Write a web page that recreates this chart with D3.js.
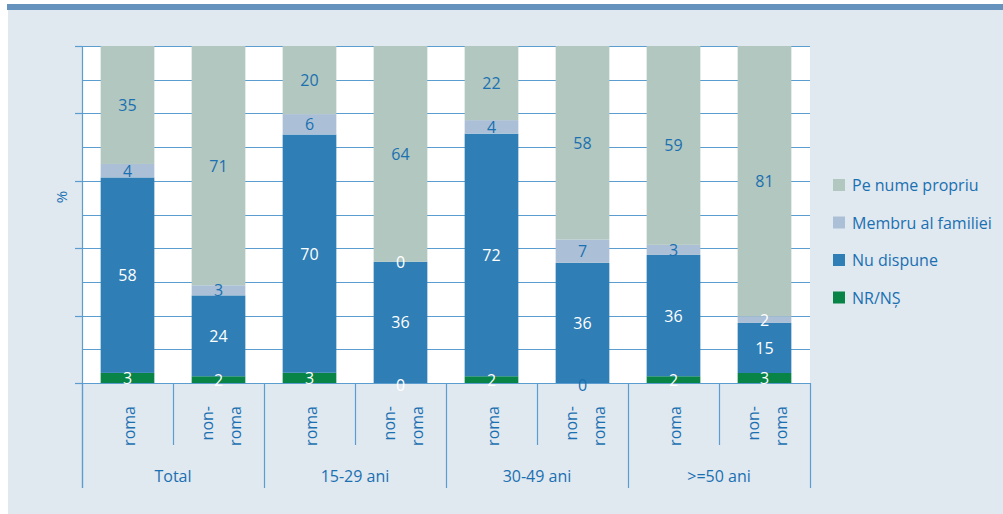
<!DOCTYPE html>
<html><head><meta charset="utf-8">
<script src="https://cdn.jsdelivr.net/npm/d3@7"></script>
<style>
html,body{margin:0;padding:0;background:#fff;}
svg{display:block;font-family:"Open Sans",sans-serif;}
</style></head>
<body>
<svg id="c" width="1003" height="514"></svg>
<script>
const groups = ["Total", "15-29 ani", "30-49 ani", ">=50 ani"];
const subs = ["roma", "non-roma"];
const seriesNames = ["NR/NȘ", "Nu dispune", "Membru al familiei", "Pe nume propriu"];
const legendOrder = ["Pe nume propriu", "Membru al familiei", "Nu dispune", "NR/NȘ"];
const nrns      = [3, 2, 3, 0, 2, 0, 2, 3];
const nuDispune = [58, 24, 70, 36, 72, 36, 36, 15];
const membru    = [4, 3, 6, 0, 4, 7, 3, 2];
const peNume    = [35, 71, 20, 64, 22, 58, 59, 81];

(function(){
const colors = {"NR/NȘ":"#078446","Nu dispune":"#2f7eb5","Membru al familiei":"#abc0d6","Pe nume propriu":"#b1c7bf"};
const txtBlue = "#1a70b0";

const svg = d3.select("#c");
svg.append("rect").attr("x",8).attr("y",4).attr("width",995).attr("height",510).attr("fill","#e0e8f0");
svg.append("rect").attr("x",7).attr("y",4).attr("width",996).attr("height",6).attr("fill","#6693be");

const pL = 82, pR = 810, pT = 46, pB = 383;
const bars = [];
groups.forEach((g,gi)=>subs.forEach((s,si)=>bars.push({id:gi*2+si, group:g, sub:s})));
const rows = bars.map((b,i)=>({id:b.id, "NR/NȘ":nrns[i], "Nu dispune":nuDispune[i], "Membru al familiei":membru[i], "Pe nume propriu":peNume[i]}));

const x = d3.scaleBand().domain(bars.map(b=>b.id)).range([pL,pR]).paddingInner(0.41).paddingOuter(0.205);
const y = d3.scaleLinear().domain([0,1]).range([pB,pT]);

svg.append("rect").attr("x",pL).attr("y",pT).attr("width",pR-pL).attr("height",pB-pT).attr("fill","#fff");

const ticks = d3.range(0,1.0001,0.1);
svg.append("g").selectAll("line").data(ticks).join("line")
  .attr("x1",pL).attr("x2",pR)
  .attr("y1",d=>Math.round(y(d))+0.5).attr("y2",d=>Math.round(y(d))+0.5)
  .attr("stroke","#5c9dd0").attr("stroke-width",1.2);
svg.append("g").selectAll("line").data(d3.range(0,1.0001,0.2)).join("line")
  .attr("x1",pL-7).attr("x2",pL)
  .attr("y1",d=>Math.round(y(d))+0.5).attr("y2",d=>Math.round(y(d))+0.5)
  .attr("stroke","#5c9dd0").attr("stroke-width",1.2);

const stack = d3.stack().keys(seriesNames).offset(d3.stackOffsetExpand);
const stacked = stack(rows);

const gS = svg.append("g");
stacked.forEach(layer=>{
  gS.append("g").attr("fill",colors[layer.key]).selectAll("rect").data(layer).join("rect")
    .attr("x",d=>x(d.data.id)).attr("width",x.bandwidth())
    .attr("y",d=>y(d[1])).attr("height",d=>Math.max(0,y(d[0])-y(d[1])));
});

svg.append("line").attr("x1",pL+0.5).attr("x2",pL+0.5).attr("y1",pT).attr("y2",488).attr("stroke","#5c9dd0").attr("stroke-width",1.2);
svg.append("line").attr("x1",pL).attr("x2",pR).attr("y1",pB+0.5).attr("y2",pB+0.5).attr("stroke","#5c9dd0").attr("stroke-width",1.2);

const whiteOverride = new Set(["7|Membru al familiei","3|Membru al familiei"]);
const blueOverride = new Set(["5|NR/NȘ"]);
stacked.forEach(layer=>{
  svg.append("g").selectAll("text").data(layer).join("text")
    .attr("x",d=>x(d.data.id)+x.bandwidth()/2)
    .attr("y",d=>(y(d[0])+y(d[1]))/2 + (d.data[layer.key]===0 && layer.key==="NR/NȘ" ? 2 : 0))
    .attr("text-anchor","middle").attr("dominant-baseline","central")
    .attr("font-size",16)
    .attr("fill",d=>{
      const k=d.data.id+"|"+layer.key;
      if(whiteOverride.has(k)) return "#fff";
      if(blueOverride.has(k)) return txtBlue;
      return (layer.key==="NR/NȘ"||layer.key==="Nu dispune") ? "#fff" : txtBlue;
    })
    .text(d=>d.data[layer.key]);
});

const step = x.step();
const sepSub = [], sepGroup = [];
groups.forEach((g,gi)=>{
  sepGroup.push(pL + gi*2*step);
  sepSub.push(pL + (gi*2+1)*step);
});
sepGroup.push(pR);
svg.append("g").selectAll("line").data(sepGroup).join("line")
  .attr("x1",d=>Math.round(d)+0.5).attr("x2",d=>Math.round(d)+0.5).attr("y1",pB).attr("y2",488)
  .attr("stroke","#5c9dd0").attr("stroke-width",1.2);
svg.append("g").selectAll("line").data(sepSub).join("line")
  .attr("x1",d=>Math.round(d)+0.5).attr("x2",d=>Math.round(d)+0.5).attr("y1",pB).attr("y2",445)
  .attr("stroke","#5c9dd0").attr("stroke-width",1.2);

bars.forEach(b=>{
  const cx = x(b.id)+x.bandwidth()/2;
  const lines = b.sub==="roma" ? ["roma"] : ["non-","roma"];
  lines.forEach((t,li)=>{
    const off = lines.length===1 ? 0 : (li===0 ? -13 : 15);
    svg.append("text").attr("transform",`translate(${cx+off+7},406) rotate(-90)`)
      .attr("text-anchor","end").attr("font-size",16).attr("fill",txtBlue).text(t);
  });
});
groups.forEach((g,gi)=>{
  const cx = pL + (gi*2+1)*step;
  svg.append("text").attr("x",cx).attr("y",482).attr("text-anchor","middle")
    .attr("font-size",16).attr("fill",txtBlue).text(g);
});

svg.append("text").attr("transform","translate(67,197) rotate(-90)").attr("text-anchor","middle")
  .attr("font-size",15).attr("fill",txtBlue).text("%");

const lg = svg.append("g");
legendOrder.forEach((k,i)=>{
  const yy = 185 + i*37.5;
  lg.append("rect").attr("x",833).attr("y",yy-6).attr("width",12).attr("height",12).attr("fill",colors[k]);
  lg.append("text").attr("x",852).attr("y",yy).attr("dominant-baseline","central")
    .attr("font-size",16).attr("fill",txtBlue).text(k);
});
})();
</script>
</body></html>
